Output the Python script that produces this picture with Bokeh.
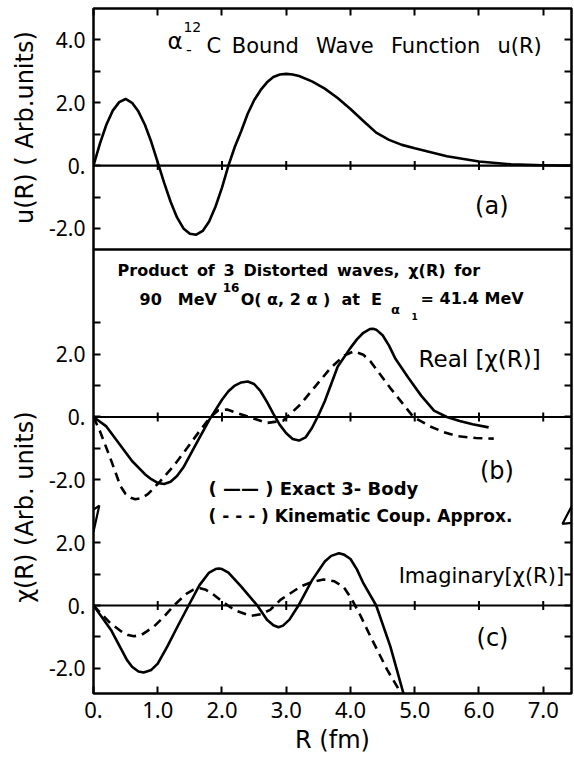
from bokeh.plotting import figure
from bokeh.models import Range1d, FixedTicker, LinearAxis, Span, Label
from bokeh.layouts import row
from bokeh.embed import file_html
from bokeh.resources import INLINE
import math

# ---------------- data ----------------
# panel (a): alpha-12C bound wave function u(R)
R_A = [0, 0.1, 0.2, 0.3, 0.4, 0.5, 0.6, 0.7, 0.8, 0.9, 1.0, 1.1, 1.2, 1.3, 1.4, 1.5, 1.6, 1.7,
       1.8, 1.9, 2.0, 2.1, 2.2, 2.3, 2.4, 2.5, 2.6, 2.7, 2.8, 2.9, 3.0, 3.1, 3.2, 3.4, 3.6, 3.8,
       4.0, 4.2, 4.4, 4.6, 4.8, 5.0, 5.5, 6.0, 6.5, 7.0, 7.44]
U_A = [0, 0.7, 1.3, 1.75, 2.02, 2.12, 2.0, 1.72, 1.3, 0.75, 0.1, -0.55, -1.15, -1.65, -2.0, -2.17,
       -2.2, -2.08, -1.78, -1.3, -0.7, 0.0, 0.6, 1.1, 1.65, 2.08, 2.4, 2.65, 2.82, 2.9, 2.92, 2.9,
       2.85, 2.68, 2.45, 2.15, 1.8, 1.42, 1.05, 0.82, 0.66, 0.55, 0.30, 0.13, 0.04, 0.01, 0.0]

# panel (b): Real[chi(R)]
R_B_EXACT = [0, 0.2, 0.4, 0.6, 0.8, 0.9, 1.0, 1.1, 1.2, 1.3, 1.4, 1.6, 1.8, 2.0, 2.1, 2.2, 2.3, 2.4,
             2.5, 2.6, 2.7, 2.8, 2.9, 3.0, 3.1, 3.2, 3.3, 3.4, 3.5, 3.6, 3.8, 4.0, 4.1, 4.2, 4.3,
             4.35, 4.4, 4.5, 4.6, 4.7, 4.9, 5.1, 5.3, 5.5, 5.7, 5.9, 6.15]
B_EXACT = [0, -0.3, -0.85, -1.4, -1.82, -1.98, -2.1, -2.13, -2.06, -1.88, -1.6, -0.85, -0.1, 0.55,
           0.82, 1.0, 1.1, 1.13, 1.05, 0.82, 0.48, 0.1, -0.25, -0.52, -0.7, -0.75, -0.65, -0.35,
           0.05, 0.5, 1.6, 2.2, 2.47, 2.68, 2.8, 2.81, 2.78, 2.6, 2.27, 1.85, 1.25, 0.68, 0.2,
           0.0, -0.13, -0.23, -0.33]
R_B_KIN = [0, 0.1, 0.26, 0.42, 0.5, 0.58, 0.65, 0.75, 0.85, 1.04, 1.25, 1.46, 1.65, 1.82, 1.94, 2.08,
           2.23, 2.45, 2.70, 2.95, 3.22, 3.43, 3.69, 3.9, 4.05, 4.2, 4.31, 4.62, 4.98, 5.24, 5.45,
           5.66, 5.95, 6.23]
B_KIN = [0, -0.45, -1.3, -2.2, -2.45, -2.57, -2.62, -2.58, -2.45, -2.04, -1.55, -0.98, -0.45, 0.0,
         0.21, 0.24, 0.13, -0.02, -0.19, -0.12, 0.4, 0.92, 1.56, 1.95, 2.09, 1.98, 1.77, 0.92, 0.0,
         -0.30, -0.48, -0.61, -0.67, -0.69]

# panel (c): Imaginary[chi(R)]
R_C_EXACT = [0, 0.27, 0.52, 0.6, 0.7, 0.78, 0.9, 1.0, 1.15, 1.3, 1.48, 1.65, 1.8, 1.9, 1.95, 2.0,
             2.1, 2.3, 2.55, 2.7, 2.8, 2.88, 2.95, 3.05, 3.19, 3.4, 3.6, 3.7, 3.82, 3.9, 4.0, 4.1,
             4.2, 4.4, 4.62, 4.83]
C_EXACT = [0, -0.77, -1.73, -1.95, -2.1, -2.13, -2.05, -1.85, -1.30, -0.7, 0.0, 0.65, 1.05, 1.16,
           1.18, 1.16, 1.05, 0.6, 0.0, -0.45, -0.63, -0.69, -0.64, -0.45, 0.0, 0.8, 1.4, 1.58,
           1.66, 1.62, 1.48, 1.15, 0.71, 0.0, -1.30, -2.84]
R_C_KIN = [0, 0.26, 0.45, 0.54, 0.63, 0.75, 0.94, 1.1, 1.25, 1.45, 1.55, 1.66, 1.75, 1.85, 2.0, 2.2,
           2.44, 2.6, 2.75, 2.91, 3.22, 3.4, 3.58, 3.75, 3.89, 4.02, 4.15, 4.31, 4.57, 4.80]
C_KIN = [0, -0.56, -0.85, -0.94, -0.98, -0.93, -0.67, -0.35, 0.0, 0.38, 0.5, 0.55, 0.5, 0.38, 0.13,
         -0.15, -0.33, -0.28, -0.14, 0.18, 0.6, 0.75, 0.83, 0.77, 0.60, 0.2, -0.3, -0.98, -2.04,
         -2.84]

# axes / ticks
X_TICKS = [0, 1, 2, 3, 4, 5, 6, 7]
X_TICK_LABELS = ["0.", "1.0", "2.0", "3.0", "4.0", "5.0", "6.0", "7.0"]
A_TICKS = [-2, -1, 0, 1, 2, 3, 4]
B_TICKS = [-2, -1, 0, 1, 2, 3]
C_TICKS = [-2, -1, 0, 1, 2]
Y_TICK_LABELS = {-2: "-2.0", 0: "0.", 2: "2.0", 4: "4.0"}

# vertical offsets of the stacked panels in the shared plot coordinate
OFF_A, OFF_B, OFF_C = 8.0, 0.0, -6.0
SEP_Y = 5.33          # line separating panel (a) from (b)
X_MAX = 7.44

FONT = "Noto Sans"
WIDE = "DejaVu Sans"
NB = "\u00a0"

yr = Range1d(-8.8, 13.0)
p = figure(width=529, height=759, x_range=Range1d(0, X_MAX), y_range=yr,
           output_backend="svg", toolbar_location=None,
           min_border_left=48, min_border_right=3, min_border_top=8, min_border_bottom=66)
p.grid.visible = False
p.outline_line_color = "black"
p.outline_line_width = 2.5
p.outline_line_alpha = 1.0
p.background_fill_color = "white"
p.border_fill_color = "white"

# ---- axes ----
def style_axis(ax):
    ax.axis_line_color = None
    ax.major_tick_in = 7
    ax.major_tick_out = 0
    ax.major_tick_line_width = 2
    ax.major_tick_line_color = "black"
    ax.minor_tick_in = 7
    ax.minor_tick_out = 0
    ax.minor_tick_line_width = 2
    ax.minor_tick_line_color = "black"

p.xaxis.ticker = FixedTicker(ticks=X_TICKS, minor_ticks=[])
p.xaxis.major_label_overrides = {t: l for t, l in zip(X_TICKS, X_TICK_LABELS)}
p.xaxis.major_label_text_font = FONT
p.xaxis.major_label_text_font_size = "22px"
p.xaxis.major_label_text_color = "black"
p.xaxis.major_label_standoff = 8
p.xaxis.axis_label = "R" + NB + "(fm)"
p.xaxis.axis_label_text_font = WIDE
p.xaxis.axis_label_text_font_size = "24px"
p.xaxis.axis_label_text_font_style = "normal"
p.xaxis.axis_label_text_color = "black"
p.xaxis.axis_label_standoff = 5
style_axis(p.xaxis[0])

labeled, unlabeled, y_over = [], [], {}
all_y = []
for ticks, off in ((C_TICKS, OFF_C), (B_TICKS, OFF_B), (A_TICKS, OFF_A)):
    for t in ticks:
        pos = t + off
        all_y.append(pos)
        if t in Y_TICK_LABELS:
            labeled.append(pos)
            y_over[int(pos)] = Y_TICK_LABELS[t]
        else:
            unlabeled.append(pos)
p.yaxis.ticker = FixedTicker(ticks=labeled, minor_ticks=unlabeled)
p.yaxis.major_label_overrides = y_over
p.yaxis.major_label_text_font = FONT
p.yaxis.major_label_text_font_size = "21px"
p.yaxis.major_label_text_color = "black"
p.yaxis.major_label_standoff = 8
style_axis(p.yaxis[0])

top = LinearAxis(ticker=FixedTicker(ticks=[], minor_ticks=X_TICKS))
style_axis(top)
p.add_layout(top, "above")
right = LinearAxis(ticker=FixedTicker(ticks=[], minor_ticks=all_y))
style_axis(right)
p.add_layout(right, "right")

# ---- zero lines, separator ----
for loc in (OFF_A, OFF_B, OFF_C):
    p.add_layout(Span(location=loc, dimension="width", line_color="black", line_width=2.2))
p.add_layout(Span(location=SEP_Y, dimension="width", line_color="black", line_width=2.5))
zx = [t for t in X_TICKS if t > 0]
for off in (OFF_A, OFF_B, OFF_C):
    p.scatter(zx, [off] * len(zx), marker="dash", angle=math.pi / 2, size=9,
              line_color="black", line_width=2)

# ---- curves ----
LW = 2.6
p.line(R_A, [v + OFF_A for v in U_A], line_color="black", line_width=LW, line_join="round")
p.line(R_B_EXACT, [v + OFF_B for v in B_EXACT], line_color="black", line_width=LW, line_join="round")
p.line(R_B_KIN, [v + OFF_B for v in B_KIN], line_color="black", line_width=LW, line_dash="9 6")
p.line(R_C_EXACT, [v + OFF_C for v in C_EXACT], line_color="black", line_width=LW, line_join="round")
p.line(R_C_KIN, [v + OFF_C for v in C_KIN], line_color="black", line_width=LW, line_dash="9 6")

# ---- axis break marks ----
p.line([0.0, 0.09, 0.0], [-2.95, -2.82, -3.65], line_color="black", line_width=2.2)
p.line([X_MAX, X_MAX - 0.14, X_MAX], [-2.85, -3.4, -3.37], line_color="black", line_width=2.2)

# ---- texts ----
def lab(fig, x, y, text, size, font=WIDE, align="left", base="middle", style="normal", angle=0.0):
    fig.add_layout(Label(x=x, y=y, text=text, text_font=font, text_font_size=size,
                         text_align=align, text_baseline=base, text_font_style=style,
                         text_color="black", angle=angle))

# panel (a)
lab(p, 1.153, 11.98, "α", "23px")
lab(p, 1.44, 11.72, "-", "16px")
lab(p, 1.40, 12.40, "12", "14px")
lab(p, 1.76, 11.82, "C\u2002Bound\u2002 Wave\u2002 Function\u2002 u(R)", "21px")
lab(p, 6.20, 6.70, "(a)", "24px", align="center")
# panel (b)
sp = NB + "\u2009"
lab(p, 0.374, 4.66, sp.join("Product of 3 Distorted waves, χ(R) for".split(" ")), "16px", style="bold")
lab(p, 0.717, 3.74, "90\u2002\u2002MeV", "16px", style="bold")
lab(p, 2.01, 4.12, "16", "12px", style="bold")
lab(p, 2.29, 3.74, "O(" + NB + "α," + NB + "2" + NB + "α" + NB + ")" + NB + NB + "at" + NB + NB + "E",
    "16px", style="bold")
lab(p, 4.63, 3.42, "α", "13px", style="bold")
lab(p, 4.95, 3.20, "1", "9px", style="bold")
lab(p, 5.09, 3.77, "=" + NB + "41.4" + NB + "MeV", "16px", style="bold")
lab(p, 5.06, 1.83, "Real" + NB + "[χ(R)]", "23px")
lab(p, 6.28, -1.73, "(b)", "24px", align="center")
lab(p, 1.79, -2.27, "(" + NB + "——" + NB + ")" + NB + "Exact" + NB + "3-" + NB + "Body", "18px", style="bold")
lab(p, 1.79, -3.16, "(" + NB + "-" + NB + "-" + NB + "-" + NB + ")" + NB + "Kinematic" + NB + "Coup." + NB + "Approx.",
    "17px", style="bold")
# panel (c)
lab(p, 4.75, -5.07, "Imaginary[χ(R)]", "21px")
lab(p, 6.21, -7.04, "(c)", "24px", align="center")

# ---- left strip holding the rotated y-axis titles ----
lf = figure(width=45, height=759, x_range=Range1d(0, 1), y_range=yr,
            output_backend="svg", toolbar_location=None,
            x_axis_location=None, y_axis_location=None,
            min_border_left=0, min_border_right=0, min_border_top=8, min_border_bottom=66)
lf.grid.visible = False
lf.outline_line_color = None
lf.background_fill_color = "white"
lf.border_fill_color = "white"
lab(lf, 0.55, 9.21, "u(R)" + NB + "(" + NB + "Arb.units)", "24px", align="center", angle=math.pi / 2)
lab(lf, 0.55, -2.87, "χ(R)" + NB + "(Arb." + NB + "units)", "24px", align="center", angle=math.pi / 2)

layout = row(lf, p, spacing=0)
open("out.html", "w").write(file_html(layout, INLINE))
